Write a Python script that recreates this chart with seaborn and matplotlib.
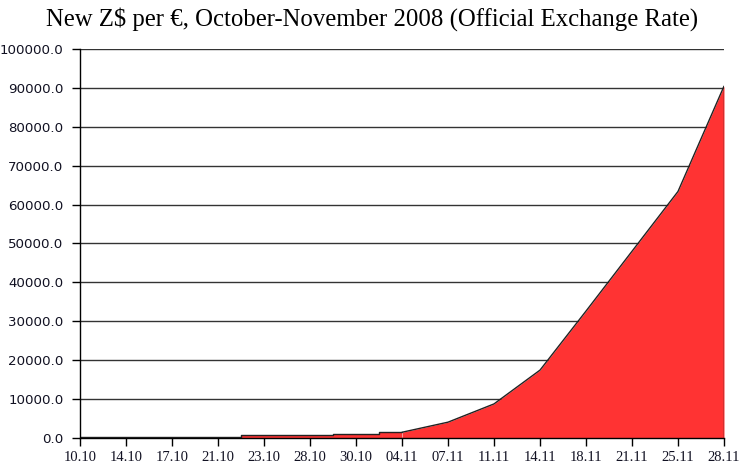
import numpy as np
import pandas as pd
import matplotlib
matplotlib.use("Agg")
import matplotlib.pyplot as plt
import seaborn as sns
from matplotlib.ticker import FuncFormatter

# ---- data ----
dates = ["10.10", "14.10", "17.10", "21.10", "23.10", "28.10", "30.10", "04.11",
         "07.11", "11.11", "14.11", "18.11", "21.11", "25.11", "28.11"]
rate = [200, 200, 200, 200, 750, 750, 1030, 1400,
        4000, 8700, 17400, 32600, 48000, 63400, 90500]
title = "New Z$ per \u20ac, October-November 2008 (Official Exchange Rate)"
y_ticks = list(range(0, 100001, 10000))

# index where stepped (flat official rate) part ends
step_end = 7

sns.set_theme(style="white")
plt.rcParams["font.family"] = ["DejaVu Sans"]

df = pd.DataFrame({"date": dates, "rate": rate})
df["pos"] = np.arange(len(df))

fig = plt.figure(figsize=(7.45, 4.65), dpi=100)
ax = fig.add_axes([80 / 745, 1 - 437.7 / 465, (724 - 80) / 745, (437.7 - 49.3) / 465])

red = "#FF3333"
first = df.iloc[: step_end + 1]
rest = df.iloc[step_end:]

ax.fill_between(first["pos"], first["rate"], step="mid", color=red, lw=0, zorder=2)
ax.fill_between(rest["pos"], rest["rate"], color=red, lw=0, zorder=2)
ax.plot(first["pos"], first["rate"], drawstyle="steps-mid", color="#222222", lw=1.0, zorder=3)
sns.lineplot(data=rest, x="pos", y="rate", color="#222222", lw=1.0, ax=ax,
             estimator=None, sort=False, zorder=3)
ax.vlines(df["pos"].iloc[-1], 0, df["rate"].iloc[-1], color="#222222", lw=1.0, zorder=3)

ax.set_xlim(0, len(df) - 1)
ax.set_ylim(0, 100000)
ax.set_xticks(df["pos"])
ax.set_xticklabels(df["date"], family=["Liberation Serif"], fontsize=10.5, color="#111122")
ax.set_yticks(y_ticks)
ax.yaxis.set_major_formatter(FuncFormatter(lambda v, p: f"{v:.1f}"))
for lab in ax.get_yticklabels():
    lab.set_fontsize(9.6)
    lab.set_color("#111122")

ax.yaxis.grid(True, color="#333333", lw=1.0, zorder=1)
ax.set_axisbelow(True)
ax.tick_params(axis="both", which="major", length=6, width=1, color="black",
               direction="out", bottom=True, left=True)
ax.tick_params(axis="y", pad=6)
ax.tick_params(axis="x", pad=3.5)

for s in ["top", "right"]:
    ax.spines[s].set_visible(False)
for s in ["left", "bottom"]:
    ax.spines[s].set_color("black")
    ax.spines[s].set_linewidth(1.0)
    ax.spines[s].set_zorder(4)

ax.set_xlabel("")
ax.set_ylabel("")
fig.text(0.5, 1 - 19 / 465, title, ha="center", va="center",
         family=["Liberation Serif"], fontsize=17.8, color="black")

fig.savefig("out.png", dpi=100)
